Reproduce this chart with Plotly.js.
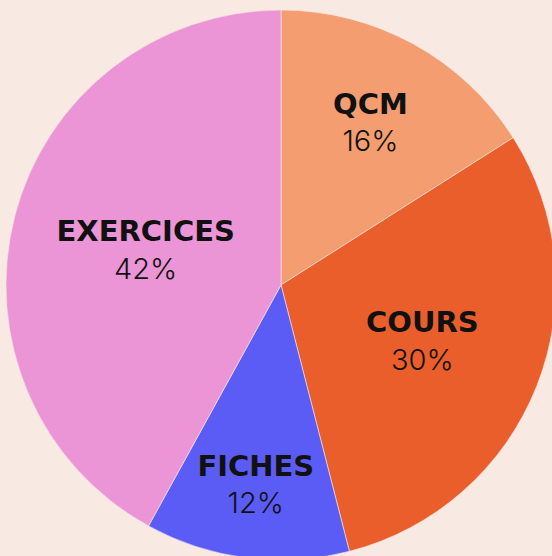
<!DOCTYPE html>
<html>
<head>
<meta charset="utf-8">
<script src="https://cdn.plot.ly/plotly-3.0.1.min.js"></script>
<style>
html,body{margin:0;padding:0;overflow:hidden;background:#F8EAE3;width:552px;height:556px;}
#chart{width:560px;height:564px;}
</style>
</head>
<body>
<div id="chart"></div>
<script>
const categories = ["QCM", "COURS", "FICHES", "EXERCICES"];
const values = [16, 30, 12, 42];
const colors = ["#F39D70", "#EA5E2C", "#5B5CF6", "#EC95D6"];

const trace = {
  type: "pie",
  labels: categories,
  values: values,
  sort: false,
  direction: "clockwise",
  rotation: 0,
  marker: {colors: colors, line: {color: "#F8EAE3", width: 0.6}},
  textposition: "inside",
  insidetextorientation: "horizontal",
  texttemplate: "<span style='font-family:\"DejaVu Sans\",sans-serif;font-weight:700'>%{label}</span><br><span style='font-weight:300'>%{percent:.0%}</span>",
  textfont: {family: "Inter, 'DejaVu Sans', sans-serif", size: 29, color: "#111111"},
  hoverinfo: "label+percent",
  showlegend: false
};

const layout = {
  width: 560,
  height: 564,
  margin: {l: 6, r: 4, t: 10, b: 4},
  paper_bgcolor: "#F8EAE3",
  plot_bgcolor: "#F8EAE3",
  showlegend: false
};

Plotly.newPlot("chart", [trace], layout, {displayModeBar: false, staticPlot: true});
</script>
</body>
</html>
